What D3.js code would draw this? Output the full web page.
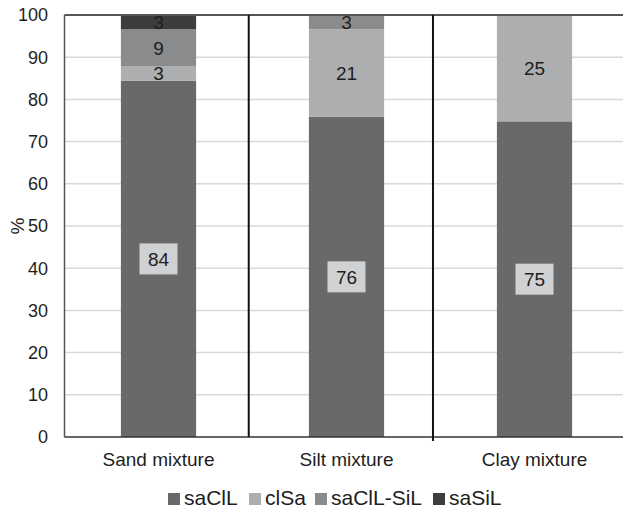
<!DOCTYPE html>
<html>
<head>
<meta charset="utf-8">
<script src="https://cdn.jsdelivr.net/npm/d3@7"></script>
<style>
  body { margin: 0; background: #fff; }
  text { font-family: "Liberation Sans", Arial, sans-serif; fill: #1e1e1e; }
</style>
</head>
<body>
<div id="chart"></div>
<script>
var categories = ["Sand mixture", "Silt mixture", "Clay mixture"];
var seriesNames = ["saClL", "clSa", "saClL-SiL", "saSiL"];
var saClL = [84.4, 75.9, 74.8];
var clSa = [3.4, 20.7, 25.2];
var saClLSiL = [8.8, 3.4, 0];
var saSiL = [3.4, 0, 0];
var yTicks = [0, 10, 20, 30, 40, 50, 60, 70, 80, 90, 100];
var colors = ["#68696b", "#adaeb0", "#8a8b8d", "#3d3d3e"];

function chart() {
  var self = this;
  var width = 623, height = 508;
  var left = 64.5, top = 15, bottom = 437;

  this.init = function () {
    self.svg = d3.select("#chart").append("svg")
      .attr("width", width).attr("height", height);

    self.x = d3.scaleBand().domain(categories)
      .range([left, left + 188 * categories.length])
      .paddingInner(0.6).paddingOuter(0.3);
    self.y = d3.scaleLinear().domain([0, 100]).range([bottom, top]);

    self.drawGrid();
    self.drawBars();
    self.drawAxes();
    self.drawLegend();
  };

  this.drawGrid = function () {
    self.svg.append("g").selectAll("line")
      .data(yTicks.filter(function (d) { return d > 0 && d < 100; }))
      .enter().append("line")
      .attr("x1", left).attr("x2", width)
      .attr("y1", function (d) { return self.y(d); })
      .attr("y2", function (d) { return self.y(d); })
      .style("stroke", "#d9d9d9").style("stroke-width", 1.5);
  };

  this.drawBars = function () {
    var table = categories.map(function (c, i) {
      return { cat: c, "saClL": saClL[i], "clSa": clSa[i], "saClL-SiL": saClLSiL[i], "saSiL": saSiL[i] };
    });
    var stack = d3.stack().keys(seriesNames)(table);

    var layers = self.svg.append("g").selectAll("g")
      .data(stack).enter().append("g")
      .style("fill", function (d, i) { return colors[i]; });

    layers.selectAll("rect")
      .data(function (d) { return d; })
      .enter().append("rect")
      .attr("x", function (d) { return self.x(d.data.cat); })
      .attr("width", self.x.bandwidth())
      .attr("y", function (d) { return self.y(d[1]); })
      .attr("height", function (d) { return self.y(d[0]) - self.y(d[1]); });

    // value labels
    stack.forEach(function (layer, li) {
      layer.forEach(function (d) {
        var v = d[1] - d[0];
        if (v <= 0) return;
        var cx = self.x(d.data.cat) + self.x.bandwidth() / 2;
        var cy = self.y((d[0] + d[1]) / 2);
        var g = self.svg.append("g");
        if (li === 0) {
          g.append("rect")
            .attr("x", cx - 19).attr("y", cy - 15.5)
            .attr("width", 38).attr("height", 31)
            .style("fill", "#d0d1d3");
        }
        g.append("text")
          .attr("x", cx).attr("y", cy)
          .attr("dy", "0.36em")
          .attr("text-anchor", "middle")
          .style("font-size", "19px")
          .text(Math.round(v));
      });
    });
  };

  this.drawAxes = function () {
    // top border and axes lines
    self.svg.append("line")
      .attr("x1", left).attr("x2", width)
      .attr("y1", top).attr("y2", top)
      .style("stroke", "#555").style("stroke-width", 2);
    self.svg.append("line")
      .attr("x1", left).attr("x2", left)
      .attr("y1", top).attr("y2", bottom)
      .style("stroke", "#555").style("stroke-width", 1.5);
    self.svg.append("line")
      .attr("x1", left).attr("x2", width)
      .attr("y1", bottom).attr("y2", bottom)
      .style("stroke", "#333").style("stroke-width", 1.5);

    // category separators
    var step = self.x.step();
    [0.98, 1.96].forEach(function (k, i) {
      self.svg.append("line")
        .attr("x1", left + k * step).attr("x2", left + k * step)
        .attr("y1", top).attr("y2", bottom + (i === 1 ? 4 : 0))
        .style("stroke", "#111").style("stroke-width", 2);
    });

    self.svg.append("g").selectAll("text")
      .data(yTicks).enter().append("text")
      .attr("x", 48)
      .attr("y", function (d) { return self.y(d); })
      .attr("dy", "0.36em")
      .attr("text-anchor", "end")
      .style("font-size", "18px")
      .text(function (d) { return d; });

    self.svg.append("g").selectAll("text")
      .data(categories).enter().append("text")
      .attr("x", function (d) { return self.x(d) + self.x.bandwidth() / 2; })
      .attr("y", 466)
      .attr("text-anchor", "middle")
      .style("font-size", "19px")
      .text(function (d) { return d; });

    self.svg.append("text")
      .attr("transform", "translate(24," + ((top + bottom) / 2) + ") rotate(-90)")
      .attr("text-anchor", "middle")
      .style("font-size", "19px")
      .text("%");
  };

  this.drawLegend = function () {
    var xs = [168, 249, 315, 433];
    var legend = self.svg.append("g").selectAll("g")
      .data(seriesNames).enter().append("g")
      .attr("transform", function (d, i) { return "translate(" + xs[i] + ",505)"; });
    legend.append("rect")
      .attr("x", 0).attr("y", -12).attr("width", 12).attr("height", 12)
      .style("fill", function (d, i) { return colors[i]; });
    legend.append("text")
      .attr("x", 16).attr("y", 0)
      .style("font-size", "21px")
      .text(function (d) { return d; });
  };

  this.init();
}

new chart();
</script>
</body>
</html>
